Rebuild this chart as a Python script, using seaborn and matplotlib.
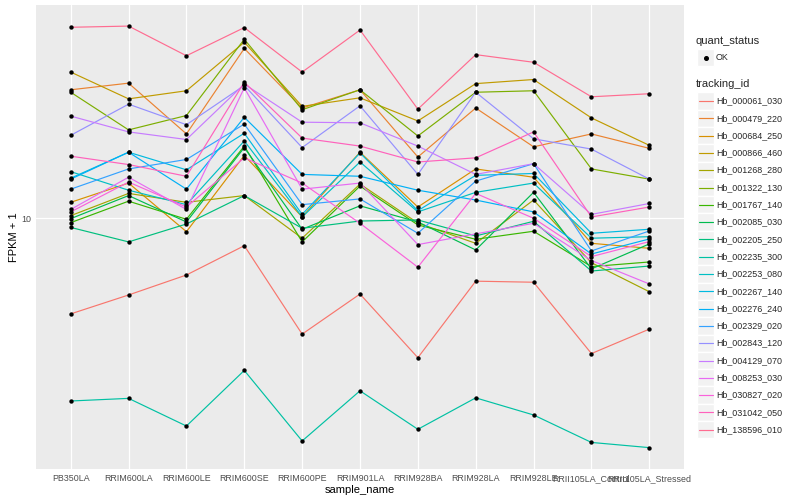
import matplotlib

matplotlib.use("Agg")
import matplotlib.pyplot as plt
from matplotlib.lines import Line2D
from matplotlib.patches import Rectangle
from matplotlib.ticker import FixedLocator, FixedFormatter, NullLocator
import numpy as np
import pandas as pd
import seaborn as sns


SAMPLES = [
    "PB350LA", "RRIM600LA", "RRIM600LE", "RRIM600SE", "RRIM600PE", "RRIM901LA",
    "RRIM928BA", "RRIM928LA", "RRIM928LE", "RRII105LA_Control", "RRII105LA_Stressed",
]

TRACKING_IDS = [
    "Hb_000061_030", "Hb_000479_220", "Hb_000684_250", "Hb_000866_460", "Hb_001268_280",
    "Hb_001322_130", "Hb_001767_140", "Hb_002085_030", "Hb_002205_250", "Hb_002235_300",
    "Hb_002253_080", "Hb_002267_140", "Hb_002276_240", "Hb_002329_020", "Hb_002843_120",
    "Hb_004129_070", "Hb_008253_030", "Hb_030827_020", "Hb_031042_050", "Hb_138596_010",
]

# ggplot default hue palette for 20 levels
HUE_COLORS = [
    "#F8766D", "#EA8331", "#D89000", "#C09B00", "#A3A500", "#7CAE00", "#39B600",
    "#00BB4E", "#00BF7D", "#00C1A3", "#00BFC4", "#00BAE0", "#00B0F6", "#35A2FF",
    "#9590FF", "#C77CFF", "#E76BF3", "#FA62DB", "#FF62BC", "#FF6C91",
]

# FPKM + 1, one list per gene, in SAMPLES order
HB_000061_030 = [4.80, 5.55, 6.47, 8.10, 4.11, 5.59, 3.43, 6.17, 6.12, 3.54, 4.27]
HB_000479_220 = [26.8, 28.2, 19.1, 36.8, 23.3, 26.8, 16.0, 23.3, 17.3, 19.1, 17.1]
HB_000684_250 = [11.3, 13.1, 9.02, 16.2, 10.1, 16.6, 10.9, 14.6, 13.7, 8.25, 7.94]
HB_000866_460 = [30.7, 25.0, 26.6, 38.6, 23.6, 25.2, 21.1, 28.1, 29.0, 21.6, 17.5]
HB_001268_280 = [10.2, 12.1, 11.3, 11.9, 8.58, 13.0, 9.64, 8.25, 11.5, 7.11, 5.69]
HB_001322_130 = [26.3, 19.7, 22.0, 39.5, 23.0, 26.8, 18.8, 26.3, 26.6, 14.6, 13.5]
HB_001767_140 = [9.67, 11.4, 9.92, 17.4, 8.34, 12.8, 9.50, 8.51, 9.05, 6.90, 7.15]
HB_002085_030 = [9.97, 11.9, 9.72, 17.2, 9.19, 11.0, 9.72, 7.84, 12.2, 6.78, 8.21]
HB_002205_250 = [9.32, 8.34, 9.57, 11.9, 9.26, 9.79, 9.87, 8.73, 9.77, 6.67, 6.93]
HB_002235_300 = [2.46, 2.51, 2.03, 3.11, 1.81, 2.66, 1.98, 2.52, 2.21, 1.79, 1.72]
HB_002253_080 = [14.3, 12.4, 11.1, 18.1, 10.1, 15.4, 10.5, 12.2, 13.1, 8.58, 8.68]
HB_002267_140 = [13.6, 16.6, 14.5, 19.2, 10.3, 16.5, 10.6, 13.9, 14.1, 8.91, 9.19]
HB_002276_240 = [13.5, 16.6, 12.5, 21.7, 14.0, 13.8, 12.4, 11.5, 10.5, 7.60, 8.53]
HB_002329_020 = [12.5, 14.6, 15.7, 20.6, 11.1, 11.6, 8.91, 13.3, 15.2, 7.78, 9.07]
HB_002843_120 = [18.9, 24.0, 20.5, 27.7, 17.2, 23.7, 14.0, 26.3, 18.4, 17.0, 13.5]
HB_004129_070 = [21.9, 19.4, 18.3, 28.0, 20.9, 20.8, 17.4, 14.0, 15.2, 10.3, 11.2]
HB_008253_030 = [10.7, 13.7, 10.7, 27.2, 12.5, 13.1, 8.17, 8.87, 9.62, 7.23, 6.04]
HB_030827_020 = [10.5, 13.2, 10.9, 15.9, 13.1, 9.62, 6.87, 12.1, 10.0, 7.45, 8.36]
HB_031042_050 = [16.1, 15.1, 13.8, 28.4, 18.5, 17.4, 15.4, 15.9, 19.4, 10.1, 10.9]
HB_138596_010 = [43.3, 43.7, 34.8, 43.2, 30.7, 42.4, 23.1, 35.1, 33.1, 25.4, 26.0]

GENE_VALUES = [
    HB_000061_030, HB_000479_220, HB_000684_250, HB_000866_460, HB_001268_280,
    HB_001322_130, HB_001767_140, HB_002085_030, HB_002205_250, HB_002235_300,
    HB_002253_080, HB_002267_140, HB_002276_240, HB_002329_020, HB_002843_120,
    HB_004129_070, HB_008253_030, HB_030827_020, HB_031042_050, HB_138596_010,
]

QUANT_STATUS = ["OK"]

W, H = 800, 500


def fx(px):
    return px / W


def fy(py):
    return 1 - py / H


def main():
    sns.set_style("darkgrid", {"axes.facecolor": "#EBEBEB", "grid.color": "white"})
    plt.rcParams["font.family"] = ["Liberation Sans", "DejaVu Sans"]

    rows = []
    for gid, vals in zip(TRACKING_IDS, GENE_VALUES):
        for s, v in zip(SAMPLES, vals):
            rows.append({"tracking_id": gid, "sample_name": s, "fpkm1": v, "quant_status": "OK"})
    df = pd.DataFrame(rows)
    df["sample_name"] = pd.Categorical(df["sample_name"], categories=SAMPLES, ordered=True)
    df["tracking_id"] = pd.Categorical(df["tracking_id"], categories=TRACKING_IDS, ordered=True)

    fig = plt.figure(figsize=(W / 100, H / 100), dpi=100, facecolor="white")
    ax = fig.add_axes([fx(36), fy(468.7), fx(684) - fx(36), fy(5) - fy(468.7)])

    palette = dict(zip(TRACKING_IDS, HUE_COLORS))
    sns.lineplot(data=df, x="sample_name", y="fpkm1", hue="tracking_id", palette=palette,
                 ax=ax, legend=False, linewidth=0.85, sort=False, estimator=None)
    sns.scatterplot(data=df, x="sample_name", y="fpkm1", color="black", s=10,
                    linewidth=0, ax=ax, legend=False, zorder=5)

    ax.set_yscale("log")
    lo = np.log10(df["fpkm1"].min())
    hi = np.log10(df["fpkm1"].max())
    pad = (hi - lo) * 0.05
    ax.set_ylim(10 ** (lo - pad), 10 ** (hi + pad))
    ax.yaxis.set_major_locator(FixedLocator([10]))
    ax.yaxis.set_major_formatter(FixedFormatter(["10"]))
    ax.yaxis.set_minor_locator(NullLocator())
    ax.set_xlim(-0.6, len(SAMPLES) - 1 + 0.6)
    ax.set_xticks(range(len(SAMPLES)))
    ax.set_xticklabels(SAMPLES)

    ax.grid(True, color="white", linewidth=0.9)
    ax.set_axisbelow(True)
    for sp in ax.spines.values():
        sp.set_visible(False)
    ax.tick_params(axis="both", length=2.2, width=0.6, color="#333333",
                   labelsize=6.4, labelcolor="#4D4D4D", pad=1.5)
    ax.set_xlabel("sample_name", fontsize=8, color="black", labelpad=1.5)
    ax.set_ylabel("FPKM + 1", fontsize=8, color="black", labelpad=1)

    # legend: quant_status
    fig.text(fx(696), fy(40.5), "quant_status", fontsize=8, va="center", ha="left")
    key = 17.3
    fig.patches.append(Rectangle((fx(697), fy(49 + key)), key / W, key / H,
                                 transform=fig.transFigure, facecolor="#F2F2F2",
                                 edgecolor="white", linewidth=1))
    fig.lines.append(Line2D([fx(697 + key / 2)], [fy(57.5)], transform=fig.transFigure,
                            marker="o", markersize=2.6, color="black", linestyle="none"))
    fig.text(fx(716), fy(57.5), QUANT_STATUS[0], fontsize=6.4, va="center", ha="left")

    # legend: tracking_id
    fig.text(fx(696), fy(84.3), "tracking_id", fontsize=8, va="center", ha="left")
    for i, (gid, col) in enumerate(zip(TRACKING_IDS, HUE_COLORS)):
        yc = 101 + i * key
        fig.patches.append(Rectangle((fx(697), fy(yc + key / 2)), key / W, key / H,
                                     transform=fig.transFigure, facecolor="#F2F2F2",
                                     edgecolor="white", linewidth=1))
        fig.lines.append(Line2D([fx(698.7), fx(712.6)], [fy(yc), fy(yc)],
                                transform=fig.transFigure, color=col, linewidth=0.85))
        fig.text(fx(716), fy(yc), gid, fontsize=6.4, va="center", ha="left")

    fig.savefig("out.png", dpi=100, facecolor="white")
    plt.close(fig)


if __name__ == "__main__":
    main()
